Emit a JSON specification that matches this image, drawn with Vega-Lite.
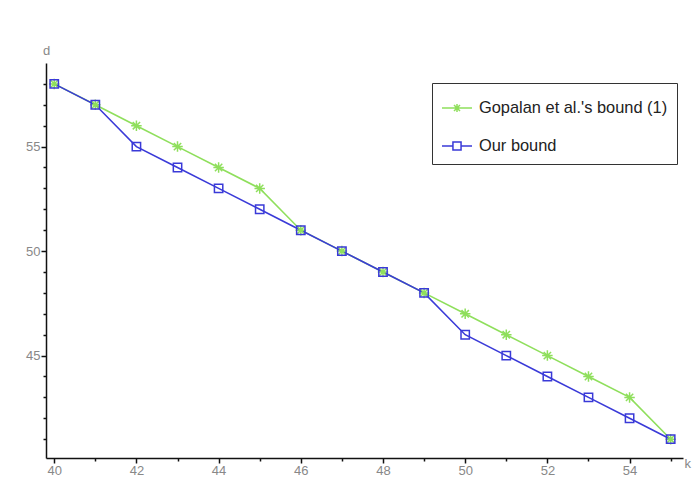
{
  "$schema": "https://vega.github.io/schema/vega-lite/v6.json",
  "width": 637,
  "height": 395,
  "autosize": "none",
  "padding": {"left": 46, "top": 63, "right": 11, "bottom": 21},
  "background": "white",
  "config": {
    "view": {"stroke": null},
    "font": "Liberation Sans",
    "axis": {"grid": false, "domainColor": "#111", "domainWidth": 1.5, "tickColor": "#111", "tickWidth": 1.5, "labelColor": "#888", "labelFontSize": 13, "titleColor": "#888", "titleFontWeight": "normal", "titleFontSize": 13}
  },
  "data": {
    "values": [
      {"k": 40, "d": 58, "series": "Gopalan et al.'s bound (1)"},
      {"k": 41, "d": 57, "series": "Gopalan et al.'s bound (1)"},
      {"k": 42, "d": 56, "series": "Gopalan et al.'s bound (1)"},
      {"k": 43, "d": 55, "series": "Gopalan et al.'s bound (1)"},
      {"k": 44, "d": 54, "series": "Gopalan et al.'s bound (1)"},
      {"k": 45, "d": 53, "series": "Gopalan et al.'s bound (1)"},
      {"k": 46, "d": 51, "series": "Gopalan et al.'s bound (1)"},
      {"k": 47, "d": 50, "series": "Gopalan et al.'s bound (1)"},
      {"k": 48, "d": 49, "series": "Gopalan et al.'s bound (1)"},
      {"k": 49, "d": 48, "series": "Gopalan et al.'s bound (1)"},
      {"k": 50, "d": 47, "series": "Gopalan et al.'s bound (1)"},
      {"k": 51, "d": 46, "series": "Gopalan et al.'s bound (1)"},
      {"k": 52, "d": 45, "series": "Gopalan et al.'s bound (1)"},
      {"k": 53, "d": 44, "series": "Gopalan et al.'s bound (1)"},
      {"k": 54, "d": 43, "series": "Gopalan et al.'s bound (1)"},
      {"k": 55, "d": 41, "series": "Gopalan et al.'s bound (1)"},
      {"k": 40, "d": 58, "series": "Our bound"},
      {"k": 41, "d": 57, "series": "Our bound"},
      {"k": 42, "d": 55, "series": "Our bound"},
      {"k": 43, "d": 54, "series": "Our bound"},
      {"k": 44, "d": 53, "series": "Our bound"},
      {"k": 45, "d": 52, "series": "Our bound"},
      {"k": 46, "d": 51, "series": "Our bound"},
      {"k": 47, "d": 50, "series": "Our bound"},
      {"k": 48, "d": 49, "series": "Our bound"},
      {"k": 49, "d": 48, "series": "Our bound"},
      {"k": 50, "d": 46, "series": "Our bound"},
      {"k": 51, "d": 45, "series": "Our bound"},
      {"k": 52, "d": 44, "series": "Our bound"},
      {"k": 53, "d": 43, "series": "Our bound"},
      {"k": 54, "d": 42, "series": "Our bound"},
      {"k": 55, "d": 41, "series": "Our bound"}
    ]
  },
  "encoding": {
    "x": {
      "field": "k", "type": "quantitative",
      "scale": {"domain": [39.8, 55.3], "nice": false, "zero": false},
      "axis": {
        "values": [40, 40.5, 41, 41.5, 42, 42.5, 43, 43.5, 44, 44.5, 45, 45.5, 46, 46.5, 47, 47.5, 48, 48.5, 49, 49.5, 50, 50.5, 51, 51.5, 52, 52.5, 53, 53.5, 54, 54.5, 55],
        "format": "d",
        "labelExpr": "datum.value % 2 === 0 ? datum.label : ''",
        "tickSize": {"condition": {"test": "datum.value % 2 === 0", "value": 5}, "value": 3},
        "labelPadding": 1,
        "title": "k",
        "titleAngle": 0,
        "titleX": 638,
        "titleY": 5,
        "titleAlign": "left",
        "titleBaseline": "middle"
      }
    },
    "y": {
      "field": "d", "type": "quantitative",
      "scale": {"domain": [40.1, 59], "nice": false, "zero": false},
      "axis": {
        "values": [41, 42, 43, 44, 45, 46, 47, 48, 49, 50, 51, 52, 53, 54, 55, 56, 57, 58],
        "labelExpr": "datum.value % 5 === 0 ? datum.label : ''",
        "tickSize": {"condition": {"test": "datum.value % 5 === 0", "value": 5}, "value": 3},
        "labelPadding": 1,
        "title": "d",
        "titleAngle": 0,
        "titleX": 0,
        "titleY": -13,
        "titleAlign": "center",
        "titleBaseline": "middle"
      }
    }
  },
  "layer": [
    {
      "mark": {"type": "line", "strokeWidth": 1.6},
      "encoding": {
        "color": {
          "field": "series", "type": "nominal",
          "scale": {"domain": ["Gopalan et al.'s bound (1)", "Our bound"], "range": ["#8fdf5c", "#3a3ad8"]},
          "legend": {
            "title": null,
            "orient": "none",
            "legendX": 386,
            "legendY": 20,
            "strokeColor": "#333",
            "fillColor": "white",
            "padding": 9,
            "rowPadding": 13,
            "symbolSize": 900,
            "symbolStrokeWidth": 1.5,
            "symbolType": "M-1,0H1",
            "labelOffset": 6,
            "labelFontSize": 16.4,
            "labelColor": "#222",
            "labelFont": "Liberation Sans",
            "labelLimit": 300,
            "encode": {
              "symbols": {
                "update": {
                  "shape": {"signal": "datum.value === 'Our bound' ? 'M-1,0H-0.27M0.27,0H1M-0.27,-0.27H0.27V0.27H-0.27Z' : 'M-1,0H1M0,-0.27V0.27M-0.2,-0.2L0.2,0.2M-0.2,0.2L0.2,-0.2'"},
                  "fill": {"value": "transparent"}
                }
              }
            }
          }
        }
      }
    },
    {
      "transform": [{"filter": "datum.series === \"Gopalan et al.'s bound (1)\""}],
      "mark": {"type": "point", "filled": false, "strokeWidth": 1.5, "opacity": 1, "color": "#8fdf5c", "shape": "M-1,0H1M0,-1V1M-0.7,-0.7L0.7,0.7M-0.7,0.7L0.7,-0.7", "size": 110}
    },
    {
      "transform": [{"filter": "datum.series === 'Our bound'"}],
      "mark": {"type": "point", "filled": false, "strokeWidth": 1.5, "opacity": 1, "color": "#3a3ad8", "shape": "square", "size": 70}
    }
  ]
}
